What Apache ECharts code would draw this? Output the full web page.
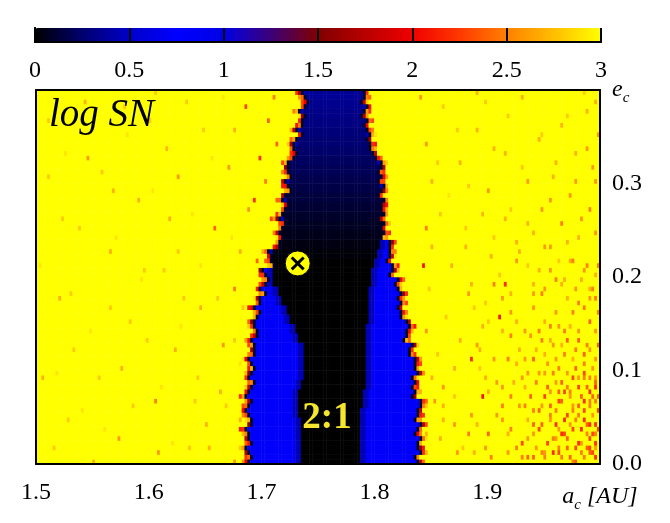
<!DOCTYPE html>
<html>
<head>
<meta charset="utf-8">
<script src="https://cdn.jsdelivr.net/npm/echarts@6/dist/echarts.min.js"></script>
<style>
  html, body { margin: 0; padding: 0; background: #ffffff; }
  #chart { width: 670px; height: 523px; }
</style>
</head>
<body>
<div id="chart"></div>
<script>
// ---- plane sampled by the stability map ----
const aMin = 1.5, aMax = 2.0, aStep = 0.0025;   // a_c [AU]
const eMin = 0.0, eMax = 0.4, eStep = 0.005;    // e_c
const bandStep = 0.01;                           // e_c spacing of the edge tables below

// Edges of the 2:1 resonance zone (AU), one entry per 0.01 in e_c, from e_c = 0 upward
const outerLeft = [1.686, 1.686, 1.686, 1.686, 1.687, 1.687, 1.687, 1.687, 1.688, 1.688,
                   1.688, 1.689, 1.690, 1.691, 1.692, 1.693, 1.694, 1.696, 1.698, 1.700,
                   1.702, 1.705, 1.707, 1.711, 1.715, 1.716, 1.717, 1.718, 1.719, 1.720,
                   1.721, 1.721, 1.723, 1.725, 1.729, 1.732, 1.733, 1.734, 1.735, 1.736];
const coreLeft  = [1.737, 1.737, 1.736, 1.736, 1.735, 1.734, 1.734, 1.734, 1.736, 1.738,
                   1.739, 1.739, 1.738, 1.734, 1.730, 1.727, 1.723, 1.718, 1.715, 1.712,
                   1.710, 1.710, 1.712, 1.715, 1.718, 1.720, 1.721, 1.722, 1.723, 1.724,
                   1.725, 1.725, 1.727, 1.729, 1.733, 1.736, 1.737, 1.738, 1.739, 1.740];
const coreRight = [1.785, 1.785, 1.785, 1.786, 1.787, 1.787, 1.788, 1.789, 1.790, 1.791,
                   1.792, 1.792, 1.792, 1.792, 1.792, 1.793, 1.793, 1.794, 1.794, 1.795,
                   1.796, 1.799, 1.801, 1.804, 1.807, 1.806, 1.805, 1.805, 1.805, 1.804,
                   1.804, 1.803, 1.801, 1.798, 1.795, 1.791, 1.790, 1.789, 1.789, 1.790];
const outerRight = [1.840, 1.840, 1.840, 1.840, 1.840, 1.840, 1.840, 1.839, 1.839, 1.839,
                    1.838, 1.836, 1.834, 1.832, 1.831, 1.829, 1.827, 1.825, 1.823, 1.821,
                    1.819, 1.817, 1.816, 1.814, 1.812, 1.810, 1.809, 1.809, 1.809, 1.808,
                    1.808, 1.807, 1.805, 1.802, 1.799, 1.795, 1.794, 1.793, 1.793, 1.794];
// ragged outline of the zone, in grid cells, one entry per e_c row (repeating)
const raggedLeft  = [0, 1, 0, -1, 1, 0, 0, -1, 1, 1, 0, -1, 0, 1, -1, 0, 0, 1, -1];
const raggedRight = [0, -1, 1, 0, 0, 1, -1, 0, 1, -1, 0, 0, 1, 1, -1, 0, -1];

// log SN levels inside the zone
const coreTone = [0.00, 0.00, 0.00, 0.00, 0.00, 0.00, 0.00, 0.00, 0.00, 0.00,
                  0.00, 0.00, 0.00, 0.00, 0.00, 0.00, 0.00, 0.00, 0.00, 0.00,
                  0.00, 0.00, 0.02, 0.04, 0.06, 0.08, 0.10, 0.12, 0.14, 0.16,
                  0.18, 0.20, 0.22, 0.24, 0.26, 0.28, 0.30, 0.32, 0.34, 0.36];
const wingTone = 0.8, innerWingTone = 0.45, seamTone = 0.1, chaoticTone = 3.0;
const edgeTone = [2.0, 2.4, 1.7, 2.6, 2.1, 1.8, 2.5, 2.2, 1.6, 2.7, 2.3];
const haloTone = [2.6, 2.2, 3.0, 2.8, 2.4, 3.0, 2.7, 2.1, 3.0, 2.9, 2.5, 3.0, 2.3];

// isolated regular orbits in the chaotic region, left of the resonance: [a_c, e_c, log SN]
const specklesInner = [
  [1.520, 0.176, 2.7], [1.529, 0.047, 2.8], [1.547, 0.326, 2.6], [1.556, 0.090, 2.8], [1.565, 0.229, 2.7],
  [1.574, 0.026, 2.6], [1.583, 0.154, 2.8], [1.591, 0.283, 2.7], [1.600, 0.369, 2.8], [1.605, 0.069, 2.5],
  [1.614, 0.208, 2.8], [1.623, 0.122, 2.7], [1.627, 0.305, 2.6], [1.636, 0.015, 2.8], [1.645, 0.165, 2.7],
  [1.649, 0.358, 2.8], [1.658, 0.251, 2.4], [1.663, 0.079, 2.7], [1.671, 0.315, 2.6], [1.676, 0.187, 2.5],
  [1.680, 0.047, 2.7], [1.685, 0.380, 2.3], [1.676, 0.133, 2.8], [1.694, 0.283, 2.2], [1.538, 0.251, 2.8],
  [1.507, 0.090, 2.7], [1.512, 0.305, 2.8], [1.552, 0.004, 2.7], [1.578, 0.380, 2.8], [1.609, 0.010, 2.6],
  [1.631, 0.176, 2.8], [1.654, 0.015, 2.7], [1.667, 0.128, 2.6], [1.680, 0.229, 2.7], [1.707, 0.369, 2.4],
  [1.698, 0.326, 2.2], [1.711, 0.390, 2.5], [1.516, 0.015, 2.8], [1.534, 0.122, 2.8], [1.569, 0.294, 2.7],
  [1.596, 0.208, 2.8], [1.618, 0.262, 2.7], [1.640, 0.069, 2.8], [1.676, 0.004, 2.6],
  [1.503, 0.212, 2.9], [1.511, 0.368, 2.8], [1.518, 0.097, 2.9], [1.523, 0.262, 2.8], [1.527, 0.333, 2.9],
  [1.532, 0.183, 2.8], [1.541, 0.058, 2.9], [1.544, 0.388, 2.7], [1.549, 0.141, 2.9], [1.558, 0.312, 2.8],
  [1.561, 0.037, 2.9], [1.566, 0.168, 2.8], [1.571, 0.244, 2.9], [1.577, 0.104, 2.7], [1.582, 0.351, 2.9],
  [1.587, 0.061, 2.8], [1.593, 0.198, 2.9], [1.598, 0.132, 2.8], [1.603, 0.292, 2.9], [1.607, 0.396, 2.8],
  [1.612, 0.083, 2.9], [1.616, 0.338, 2.7], [1.621, 0.021, 2.9], [1.626, 0.228, 2.8], [1.629, 0.146, 2.9],
  [1.634, 0.387, 2.8], [1.638, 0.268, 2.9], [1.643, 0.093, 2.8], [1.647, 0.213, 2.9], [1.651, 0.041, 2.7],
  [1.656, 0.327, 2.9], [1.661, 0.175, 2.8], [1.665, 0.392, 2.9], [1.669, 0.062, 2.8], [1.673, 0.243, 2.9],
  [1.677, 0.358, 2.7], [1.681, 0.106, 2.9], [1.683, 0.168, 2.8], [1.689, 0.273, 2.6], [1.697, 0.218, 2.4],
  [1.703, 0.301, 2.5], [1.709, 0.262, 2.3], [1.714, 0.343, 2.4]
];

// isolated regular orbits right of the resonance: [a_c, e_c, log SN]
const specklesOuter = [
  [1.844, 0.211, 2.1], [1.904, 0.222, 2.7], [1.926, 0.215, 2.6], [1.937, 0.213, 2.8], [1.946, 0.208, 2.7],
  [1.955, 0.206, 2.6], [1.964, 0.215, 2.8], [1.973, 0.215, 2.7], [1.985, 0.208, 2.6], [1.995, 0.204, 2.7],
  [1.905, 0.193, 2.5], [1.916, 0.190, 2.2], [1.922, 0.184, 2.7], [1.913, 0.179, 2.6], [1.898, 0.171, 2.8],
  [1.887, 0.193, 2.7], [1.883, 0.182, 2.6], [1.941, 0.190, 2.7], [1.949, 0.180, 2.5], [1.967, 0.193, 2.7],
  [1.979, 0.188, 2.6], [1.991, 0.186, 2.7], [1.997, 0.179, 2.5], [1.910, 0.155, 2.1], [1.895, 0.146, 2.7],
  [1.890, 0.128, 2.6], [1.913, 0.142, 2.7], [1.922, 0.135, 2.5], [1.928, 0.124, 2.7], [1.934, 0.113, 2.6],
  [1.946, 0.142, 2.5], [1.955, 0.133, 2.7], [1.964, 0.146, 2.6], [1.973, 0.148, 2.7], [1.982, 0.131, 2.4],
  [1.991, 0.120, 2.6], [1.997, 0.110, 2.5], [1.886, 0.110, 2.2], [1.893, 0.120, 2.7], [1.907, 0.110, 2.6],
  [1.919, 0.113, 2.5], [1.925, 0.106, 2.7], [1.940, 0.110, 2.4], [1.952, 0.097, 2.6], [1.964, 0.102, 2.5],
  [1.976, 0.110, 2.7], [1.986, 0.099, 2.3], [1.997, 0.091, 2.6], [1.895, 0.070, 2.1], [1.901, 0.077, 2.7],
  [1.913, 0.080, 2.6], [1.922, 0.070, 2.5], [1.934, 0.084, 2.7], [1.946, 0.059, 2.4], [1.955, 0.077, 2.6],
  [1.964, 0.066, 2.3], [1.973, 0.070, 2.6], [1.982, 0.062, 2.4], [1.991, 0.077, 2.2], [1.997, 0.066, 2.5],
  [1.862, 0.048, 2.7], [1.871, 0.040, 2.6], [1.883, 0.030, 2.5], [1.892, 0.040, 2.7], [1.901, 0.030, 2.4],
  [1.913, 0.048, 2.6], [1.922, 0.037, 2.5], [1.931, 0.022, 2.3], [1.940, 0.033, 2.6], [1.949, 0.040, 2.4],
  [1.958, 0.026, 2.5], [1.967, 0.033, 2.2], [1.973, 0.044, 2.6], [1.979, 0.019, 2.3], [1.988, 0.033, 2.5],
  [1.997, 0.044, 2.2], [1.991, 0.011, 2.4], [1.997, 0.015, 2.6], [1.859, 0.026, 2.7], [1.874, 0.011, 2.6],
  [1.889, 0.011, 2.7], [1.904, 0.008, 2.5], [1.919, 0.011, 2.6], [1.937, 0.008, 2.4], [1.952, 0.011, 2.6],
  [1.964, 0.011, 2.3], [1.976, 0.004, 2.5], [1.847, 0.033, 2.7], [1.853, 0.066, 2.6], [1.850, 0.091, 2.7],
  [1.862, 0.084, 2.6], [1.871, 0.102, 2.7],
  [1.955, 0.050, 2.5], [1.960, 0.085, 2.6], [1.968, 0.078, 2.3], [1.975, 0.055, 2.5], [1.980, 0.090, 2.6],
  [1.985, 0.045, 2.2], [1.990, 0.060, 2.5], [1.994, 0.030, 2.3], [1.962, 0.025, 2.6], [1.970, 0.015, 2.4],
  [1.983, 0.010, 2.5], [1.988, 0.080, 2.4], [1.993, 0.100, 2.6], [1.978, 0.120, 2.5], [1.965, 0.125, 2.7],
  [1.945, 0.095, 2.6], [1.940, 0.055, 2.5], [1.935, 0.045, 2.7], [1.928, 0.060, 2.6], [1.918, 0.030, 2.7],
  [1.908, 0.050, 2.6], [1.898, 0.090, 2.7], [1.930, 0.090, 2.6], [1.950, 0.115, 2.7], [1.960, 0.160, 2.6],
  [1.985, 0.165, 2.5], [1.995, 0.140, 2.6], [1.970, 0.175, 2.7], [1.940, 0.165, 2.6], [1.925, 0.150, 2.7],
  [1.931, 0.005, 2.5], [1.936, 0.028, 2.6], [1.939, 0.072, 2.4], [1.943, 0.018, 2.6], [1.944, 0.088, 2.5],
  [1.947, 0.036, 2.3], [1.949, 0.064, 2.6], [1.952, 0.006, 2.5], [1.953, 0.082, 2.4], [1.956, 0.045, 2.6],
  [1.958, 0.095, 2.5], [1.959, 0.014, 2.2], [1.961, 0.058, 2.5], [1.963, 0.039, 2.6], [1.966, 0.088, 2.4],
  [1.967, 0.007, 2.5], [1.969, 0.049, 2.2], [1.971, 0.098, 2.6], [1.972, 0.027, 2.4], [1.974, 0.075, 2.5],
  [1.976, 0.038, 2.3], [1.977, 0.064, 2.6], [1.979, 0.004, 2.4], [1.981, 0.052, 2.5], [1.982, 0.083, 2.3],
  [1.984, 0.022, 2.6], [1.986, 0.069, 2.2], [1.987, 0.007, 2.5], [1.989, 0.043, 2.4], [1.991, 0.092, 2.5],
  [1.992, 0.016, 2.3], [1.993, 0.054, 2.6], [1.994, 0.073, 2.4], [1.996, 0.005, 2.2], [1.997, 0.034, 2.5],
  [1.998, 0.058, 2.3], [1.995, 0.112, 2.6], [1.989, 0.128, 2.5], [1.981, 0.142, 2.6], [1.972, 0.133, 2.4],
  [1.962, 0.112, 2.6], [1.957, 0.147, 2.5], [1.944, 0.124, 2.7], [1.938, 0.138, 2.6], [1.998, 0.162, 2.5],
  [1.991, 0.176, 2.6], [1.983, 0.198, 2.7], [1.976, 0.161, 2.5], [1.969, 0.195, 2.7], [1.952, 0.188, 2.6],
  [1.850, 0.300, 2.7], [1.858, 0.265, 2.8], [1.845, 0.340, 2.6], [1.862, 0.380, 2.8], [1.875, 0.320, 2.7],
  [1.880, 0.250, 2.8], [1.890, 0.355, 2.7], [1.900, 0.290, 2.6], [1.905, 0.240, 2.8], [1.915, 0.330, 2.7],
  [1.920, 0.270, 2.8], [1.930, 0.390, 2.7], [1.935, 0.300, 2.6], [1.940, 0.245, 2.7], [1.948, 0.350, 2.8],
  [1.955, 0.280, 2.6], [1.960, 0.320, 2.7], [1.965, 0.255, 2.5], [1.972, 0.370, 2.8], [1.978, 0.300, 2.6],
  [1.982, 0.240, 2.7], [1.988, 0.335, 2.6], [1.992, 0.270, 2.5], [1.996, 0.385, 2.7], [1.996, 0.300, 2.6],
  [1.985, 0.395, 2.8], [1.970, 0.235, 2.7], [1.950, 0.230, 2.6], [1.925, 0.235, 2.7], [1.898, 0.385, 2.8],
  [1.840, 0.390, 2.6], [1.845, 0.250, 2.5],
  [1.843, 0.028, 2.4], [1.846, 0.142, 2.6], [1.848, 0.186, 2.8], [1.852, 0.231, 2.7], [1.855, 0.118, 2.8],
  [1.857, 0.324, 2.8], [1.860, 0.061, 2.7], [1.863, 0.158, 2.8], [1.866, 0.287, 2.9], [1.868, 0.211, 2.7],
  [1.872, 0.072, 2.8], [1.874, 0.358, 2.8], [1.877, 0.134, 2.7], [1.879, 0.019, 2.8], [1.881, 0.233, 2.7],
  [1.884, 0.297, 2.8], [1.886, 0.052, 2.6], [1.888, 0.166, 2.8], [1.891, 0.398, 2.7], [1.894, 0.103, 2.8],
  [1.896, 0.268, 2.7], [1.899, 0.018, 2.6], [1.902, 0.151, 2.8], [1.906, 0.336, 2.7], [1.909, 0.087, 2.6],
  [1.911, 0.204, 2.8], [1.914, 0.061, 2.5], [1.917, 0.262, 2.7], [1.919, 0.372, 2.8], [1.921, 0.164, 2.6],
  [1.923, 0.085, 2.7], [1.927, 0.019, 2.5], [1.929, 0.226, 2.7], [1.932, 0.318, 2.8], [1.933, 0.141, 2.6],
  [1.937, 0.256, 2.7], [1.941, 0.008, 2.4], [1.942, 0.182, 2.6], [1.945, 0.347, 2.7], [1.948, 0.271, 2.6],
  [1.951, 0.153, 2.7], [1.954, 0.024, 2.3], [1.957, 0.232, 2.6], [1.959, 0.306, 2.7], [1.961, 0.196, 2.5],
  [1.963, 0.078, 2.4], [1.966, 0.364, 2.7], [1.968, 0.142, 2.5], [1.971, 0.052, 2.3], [1.973, 0.286, 2.6],
  [1.975, 0.217, 2.5], [1.977, 0.093, 2.4], [1.979, 0.331, 2.7], [1.981, 0.174, 2.5], [1.983, 0.036, 2.2],
  [1.984, 0.262, 2.6], [1.986, 0.118, 2.4], [1.988, 0.211, 2.5], [1.989, 0.375, 2.7], [1.990, 0.151, 2.4],
  [1.992, 0.026, 2.3], [1.993, 0.315, 2.6], [1.994, 0.188, 2.5], [1.995, 0.084, 2.2], [1.997, 0.248, 2.6],
  [1.998, 0.129, 2.4], [1.998, 0.352, 2.6], [1.999, 0.212, 2.5],
  [1.933, 0.064, 2.5], [1.936, 0.098, 2.6], [1.942, 0.043, 2.4], [1.948, 0.012, 2.5], [1.951, 0.073, 2.3],
  [1.954, 0.106, 2.6], [1.957, 0.061, 2.4], [1.960, 0.042, 2.2], [1.963, 0.019, 2.5], [1.965, 0.067, 2.4],
  [1.968, 0.031, 2.3], [1.970, 0.083, 2.5], [1.973, 0.008, 2.4], [1.975, 0.091, 2.3], [1.978, 0.047, 2.5],
  [1.980, 0.024, 2.2], [1.983, 0.071, 2.4], [1.985, 0.094, 2.5], [1.987, 0.056, 2.3], [1.989, 0.016, 2.4],
  [1.991, 0.041, 2.2], [1.992, 0.067, 2.5], [1.994, 0.011, 2.3], [1.996, 0.087, 2.4], [1.997, 0.021, 2.2],
  [1.999, 0.072, 2.4], [1.999, 0.039, 2.3], [1.987, 0.108, 2.5], [1.979, 0.104, 2.4], [1.969, 0.117, 2.5],
  [1.958, 0.126, 2.6], [1.948, 0.134, 2.5]
];

// annotations
const markerPoint = [1.732, 0.2145];       // the planet, drawn as ⊗
const resonanceLabel = [1.758, 0.049];     // "2:1"

// colour scale of log SN
const paletteStops = ['#000000', '#00006e', '#0000c8', '#0000ff', '#0000e6', '#3c0078', '#800000',
                      '#b80000', '#f00000', '#ff3800', '#ff8000', '#ffbe00', '#ffff00'];
const logSnTicks = [0, 0.5, 1, 1.5, 2, 2.5, 3];

// ---- build the heatmap table ----
const nA = Math.round((aMax - aMin) / aStep);
const nE = Math.round((eMax - eMin) / eStep);
const aCats = [], eCats = [];
for (let i = 0; i < nA; i++) aCats.push((aMin + (i + 0.5) * aStep).toFixed(5));
for (let j = 0; j < nE; j++) eCats.push((eMin + (j + 0.5) * eStep).toFixed(4));
const colOf = a => Math.floor((a - aMin) / aStep + 1e-9);
const rowOf = e => Math.floor((e - eMin) / eStep + 1e-9);

const table = [];
for (let j = 0; j < nE; j++) {
  const k = Math.min(Math.floor(((j + 0.5) * eStep) / bandStep), outerLeft.length - 1);
  const iL = colOf(outerLeft[k]) + raggedLeft[j % raggedLeft.length];
  const iR = colOf(outerRight[k]) + raggedRight[j % raggedRight.length];
  const cL = colOf(coreLeft[k]), cR = colOf(coreRight[k]);
  const row = [];
  for (let i = 0; i < nA; i++) {
    let v;
    if (i < iL || i > iR) v = chaoticTone;
    else if (i === iL) v = edgeTone[j % edgeTone.length];
    else if (i === iR) v = edgeTone[(j + 5) % edgeTone.length];
    else if (i === iL + 1 || i === iR - 1) v = seamTone;
    else if (i >= cL && i <= cR) v = coreTone[k];
    else if ((i >= cL - 2 && i < cL) || (i > cR && i <= cR + 2)) v = innerWingTone;
    else v = wingTone;
    if (i === iL - 1) v = haloTone[j % haloTone.length];
    if (i === iR + 1) v = haloTone[(j + 4) % haloTone.length];
    row.push(v);
  }
  table.push(row);
}
specklesInner.concat(specklesOuter).forEach(([a, e, v]) => {
  const i = colOf(a), j = rowOf(e);
  if (i >= 0 && i < nA && j >= 0 && j < nE) table[j][i] = v;
});
const cells = [];
for (let j = 0; j < nE; j++) for (let i = 0; i < nA; i++) cells.push([i, j, table[j][i]]);

// ---- chart ----
const serif = '"Liberation Serif", "Times New Roman", "DejaVu Serif", serif';
const black = '#000000';
const frameLine = { show: true, lineStyle: { color: black, width: 2 } };
const hidden = { show: false };
const subRich = {
  i: { fontFamily: serif, fontStyle: 'italic', fontSize: 24, lineHeight: 32, color: black },
  s: { fontFamily: serif, fontStyle: 'italic', fontSize: 15, lineHeight: 15, verticalAlign: 'bottom', color: black }
};

const chart = echarts.init(document.getElementById('chart'), null, { renderer: 'canvas' });
chart.setOption({
  animation: false,
  backgroundColor: '#ffffff',
  title: {
    text: 'log SN',
    left: 49, top: 96, padding: 0,
    textStyle: { fontFamily: serif, fontStyle: 'italic', fontWeight: 'normal', fontSize: 39, color: black }
  },
  grid: [
    { left: 36, top: 90, width: 564, height: 374 },
    { left: 35, top: 28, width: 566, height: 14 }
  ],
  visualMap: {
    type: 'continuous',
    min: 0, max: 3,
    seriesIndex: 0,
    orient: 'horizontal',
    left: 35, top: 28,
    itemWidth: 14, itemHeight: 566,
    padding: 0,
    calculable: false,
    hoverLink: false,
    text: null,
    inRange: { color: paletteStops }
  },
  xAxis: [
    { type: 'category', gridIndex: 0, data: aCats, show: false },
    {
      type: 'value', gridIndex: 0, min: aMin, max: aMax, interval: 0.1, position: 'bottom', z: 10,
      axisLine: frameLine, axisTick: hidden, splitLine: hidden,
      axisLabel: {
        margin: 17, color: black, fontFamily: serif, fontSize: 24,
        formatter: v => Math.abs(v - aMax) < 1e-6 ? '{i|a}{s|c}{i| [AU]}' : v.toFixed(1),
        rich: subRich
      }
    },
    {
      type: 'value', gridIndex: 0, min: aMin, max: aMax, position: 'top', z: 10,
      axisLine: frameLine, axisTick: hidden, axisLabel: hidden, splitLine: hidden
    },
    {
      type: 'value', gridIndex: 1, min: logSnTicks[0], max: logSnTicks[logSnTicks.length - 1], interval: 0.5,
      position: 'bottom', z: 10,
      axisLine: frameLine,
      axisTick: { show: true, inside: true, length: 14, lineStyle: { color: black, width: 2 } },
      splitLine: hidden,
      axisLabel: {
        margin: 17, color: black, fontFamily: serif, fontSize: 24,
        formatter: v => String(v)
      }
    },
    {
      type: 'value', gridIndex: 1, min: 0, max: 3, position: 'top', z: 10,
      axisLine: frameLine, axisTick: hidden, axisLabel: hidden, splitLine: hidden
    }
  ],
  yAxis: [
    { type: 'category', gridIndex: 0, data: eCats, show: false },
    {
      type: 'value', gridIndex: 0, min: eMin, max: eMax, interval: 0.1, position: 'right', z: 10,
      axisLine: frameLine, axisTick: hidden, splitLine: hidden,
      axisLabel: {
        margin: 12, color: black, fontFamily: serif, fontSize: 24,
        formatter: v => Math.abs(v - eMax) < 1e-6 ? '{i|e}{s|c}' : v.toFixed(1),
        rich: subRich
      }
    },
    {
      type: 'value', gridIndex: 0, min: eMin, max: eMax, position: 'left', z: 10,
      axisLine: frameLine, axisTick: hidden, axisLabel: hidden, splitLine: hidden
    },
    {
      type: 'value', gridIndex: 1, min: 0, max: 1, position: 'left', z: 10,
      axisLine: frameLine, axisTick: hidden, axisLabel: hidden, splitLine: hidden
    },
    {
      type: 'value', gridIndex: 1, min: 0, max: 1, position: 'right', z: 10,
      axisLine: frameLine, axisTick: hidden, axisLabel: hidden, splitLine: hidden
    }
  ],
  series: [
    {
      type: 'heatmap',
      xAxisIndex: 0, yAxisIndex: 0,
      data: cells,
      progressive: 0,
      emphasis: { disabled: true },
      itemStyle: { borderWidth: 0 }
    },
    {
      type: 'scatter', xAxisIndex: 1, yAxisIndex: 1, z: 6,
      data: [markerPoint],
      symbol: 'circle', symbolSize: 25,
      itemStyle: { color: '#ffff00', borderColor: black, borderWidth: 1, opacity: 1 },
      emphasis: { disabled: true }
    },
    {
      type: 'scatter', xAxisIndex: 1, yAxisIndex: 1, z: 7,
      data: [markerPoint],
      symbol: 'path://M3,0 L10,7 L17,0 L20,3 L13,10 L20,17 L17,20 L10,13 L3,20 L0,17 L7,10 L0,3 Z',
      symbolSize: 14,
      itemStyle: { color: black, opacity: 1 },
      emphasis: { disabled: true }
    },
    {
      type: 'scatter', xAxisIndex: 1, yAxisIndex: 1, z: 7,
      data: [resonanceLabel],
      symbolSize: 0,
      itemStyle: { opacity: 1 },
      label: {
        show: true, position: 'inside', formatter: '2:1', opacity: 1,
        fontFamily: serif, fontWeight: 'bold', fontSize: 37, color: '#f5e62e'
      },
      emphasis: { disabled: true }
    }
  ]
});
</script>
</body>
</html>
